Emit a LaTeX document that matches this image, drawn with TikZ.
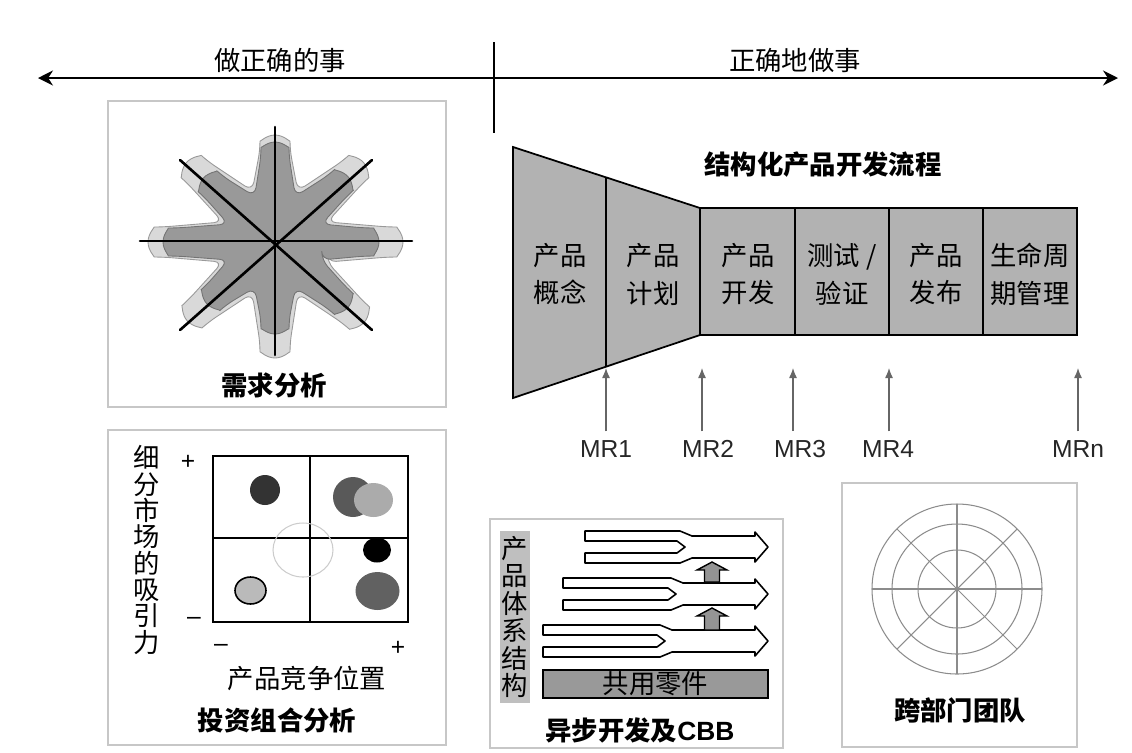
\documentclass[tikz,border=0pt]{standalone}
\usepackage{fontspec}
\setmainfont{Noto Sans CJK SC}
\newfontfamily\lat{Liberation Sans}
\usetikzlibrary{arrows.meta,calc}

\begin{document}
\begin{tikzpicture}[
  x=0.02cm, y=-0.02cm,
  font=\fontsize{15}{17}\selectfont,
  panel/.style={draw=black!22, line width=0.6pt},
  hdr/.style={font=\fontsize{15}{17}\selectfont, inner sep=1pt},
  boxcap/.style={font=\fontsize{15}{17}\selectfont\bfseries, inner sep=1pt},
  cell/.style={align=center, font=\fontsize{15}{21.6}\selectfont, inner sep=1pt},
  vtext/.style={align=center, font=\fontsize{15}{15}\selectfont, inner sep=1pt},
  mr/.style={font=\lat\fontsize{14}{16}\selectfont, text=black!85, inner sep=5pt},
  sign/.style={font=\lat\fontsize{14}{16}\selectfont, inner sep=1pt},
  mrarr/.style={-{Latex[length=2mm, width=1.6mm]}, draw=black!60, line width=0.7pt},
  bigarr/.style={{Stealth[length=3mm, width=3mm]}-{Stealth[length=3mm, width=3mm]}, line width=1.1pt},
  funnel/.style={fill=black!30, draw=black, line width=1pt},
  ghost/.style={fill=black!15, draw=black!40, line width=0.5pt, rounded corners=5pt},
  petal/.style={fill=black!40, draw=black!55, line width=0.5pt, rounded corners=5pt},
  axis/.style={line width=1.5pt, line cap=round},
  fork/.style={fill=white, draw=black, line width=0.9pt, line join=round},
  lift/.style={fill=black!42, draw=black, line width=0.8pt},
  wheel/.style={draw=black!45, line width=0.6pt}
]
\useasboundingbox (0,0) rectangle (1132,752);

% ---------------- top axis ----------------
\coordinate (lend) at (38,78);
\coordinate (rend) at (1118,78);
\coordinate (divtop) at (494,42);
\coordinate (divbot) at (494,133);
\draw[bigarr] (lend) -- (rend);
\draw[line width=1.1pt] (divtop) -- (divbot);
\node[hdr] (doright) at (280,60) {做正确的事};
\node[hdr] (rightdo) at (795,60) {正确地做事};

% ---------------- needs analysis ----------------
\draw[panel] (108,101) rectangle (446,407);
\begin{scope}[shift={(275,242)}, y=0.02cm]
  \filldraw[ghost] (339:56)
    \foreach \a/\b/\l in {0/42/128, 42/90/119, 90/138/107, 138/180/119,
                          180/222/127, 222/270/118, 270/318/116, 318/360/120} {
      -- ({\a-atan(15/(\l-15))}:{sqrt((\l-15)^2+225)})
      arc[start angle=\a-90, end angle=\a+90, radius=15]
      -- ({(\a+\b)/2}:56) } -- cycle;
  \filldraw[petal] (339:50)
    \foreach \a/\b/\l in {0/42/104, 42/90/98, 90/138/100, 138/180/96,
                          180/222/112, 222/270/92, 270/318/92, 318/360/98} {
      -- ({\a-atan(14/(\l-14))}:{sqrt((\l-14)^2+196)})
      arc[start angle=\a-90, end angle=\a+90, radius=14]
      -- ({(\a+\b)/2}:50) } -- cycle;
\end{scope}
\draw[axis] (275,127) -- (275,355);
\draw[axis] (140,241) -- (412,241);
\draw[axis] (180,160) -- (372,330);
\draw[axis] (180,330) -- (372,160);
\node[boxcap] (needs) at (274,385) {需求分析};

% ---------------- portfolio ----------------
\draw[panel] (108,430) rectangle (446,745);
\draw[line width=1.3pt] (213,456) rectangle (408,622);
\draw[line width=0.9pt] (310,456) -- (310,622);
\draw[line width=0.9pt] (213,538) -- (408,538);
\draw[draw=black!20, line width=0.6pt] (303,550) ellipse[x radius=30, y radius=27];
\fill[black!80] (265,490) circle[radius=15];
\fill[black!65] (353,497) circle[radius=20];
\fill[black!33] (373.5,500) ellipse[x radius=19.5, y radius=17];
\fill[black] (377,550) ellipse[x radius=14, y radius=12.5];
\fill[black!62] (377.5,591) ellipse[x radius=22, y radius=19];
\filldraw[fill=black!27, draw=black, line width=0.9pt] (250.5,590.5) ellipse[x radius=15.5, y radius=13.5];
\node[vtext] (attract) at (147,550) {细\\分\\市\\场\\的\\吸\\引\\力};
\node[sign] (yplus) at (188,462) {+};
\node[sign] (yminus) at (194,621) {–};
\node[sign] (xminus) at (221,648) {–};
\node[sign] (xplus) at (398,648) {+};
\node[hdr] (compete) at (307,678) {产品竞争位置};
\node[boxcap] (portfolio) at (277,720) {投资组合分析};

% ---------------- structured process ----------------
\node[boxcap] (pdp) at (823,165) {结构化产品开发流程};
\filldraw[funnel] (513,147) -- (700,208) -- (1077,208) -- (1077,335)
  -- (700,335) -- (513,398) -- cycle;
\draw[line width=1pt] (606,177) -- (606,367);
\foreach \x in {700,795,889,983}
  \draw[line width=1pt] (\x,208) -- (\x,335);
\node[cell] (c1) at (560,274) {产品\\概念};
\node[cell] (c2) at (653,274) {产品\\计划};
\node[cell] (c3) at (748,274) {产品\\开发};
\node[cell] (c4) at (842,274) {测试 /\\验证};
\node[cell] (c5) at (936,274) {产品\\发布};
\node[cell] (c6) at (1030,274) {生命周\\期管理};

\foreach \x/\t/\lx [count=\i] in {606/1/606, 702/2/708, 793/3/800, 889/4/888, 1078/n/1078} {
  \coordinate (g\i) at (\x,368);
  \node[mr] (mr\i) at (\lx,449) {MR\t};
  \draw[mrarr] (mr\i.north -| g\i) -- (g\i);
}

% ---------------- platform / CBB ----------------
\draw[panel] (490,519) rectangle (783,748);
\node[fill=black!25, minimum width=0.6cm, minimum height=3.44cm, inner sep=0,
      align=center, font=\fontsize{15}{15.6}\selectfont] (arch) at (515,617)
  {产\\品\\体\\系\\结\\构};
\foreach \L/\M/\C in {585/680/547, 563/671/594, 543/660/641}
  \filldraw[fork] (\L,\C-16) -- (\M,\C-16) -- (\M+12,\C-11) -- (755,\C-11)
    -- (755,\C-15) -- (768,\C) -- (755,\C+15) -- (755,\C+11) -- (\M+12,\C+11)
    -- (\M,\C+16) -- (\L,\C+16) -- (\L,\C+6) -- (\M-3,\C+6) -- (\M+5,\C)
    -- (\M-3,\C-6) -- (\L,\C-6) -- cycle;
\foreach \T/\B in {562/582, 608/630}
  \filldraw[lift] (712,\T) -- (727,\T+8) -- (719.5,\T+8) -- (719.5,\B)
    -- (704.5,\B) -- (704.5,\T+8) -- (697,\T+8) -- cycle;
\node[draw=black, fill=black!40, line width=0.9pt, minimum width=4.5cm,
      minimum height=0.56cm, inner sep=0] (parts) at (655.5,684) {共用零件};
\node[boxcap] (cbb) at (640,730) {异步开发及{\lat\bfseries CBB}};

% ---------------- cross-functional team ----------------
\draw[panel] (842,483) rectangle (1077,747);
\coordinate (hub) at (957,589);
\foreach \r in {39,65,85}
  \draw[wheel] (hub) circle[radius=\r];
\foreach \a in {0,45,...,315}
  \draw[wheel] (hub) -- ++(\a:85);
\node[boxcap] (team) at (960,710) {跨部门团队};

\end{tikzpicture}
\end{document}
